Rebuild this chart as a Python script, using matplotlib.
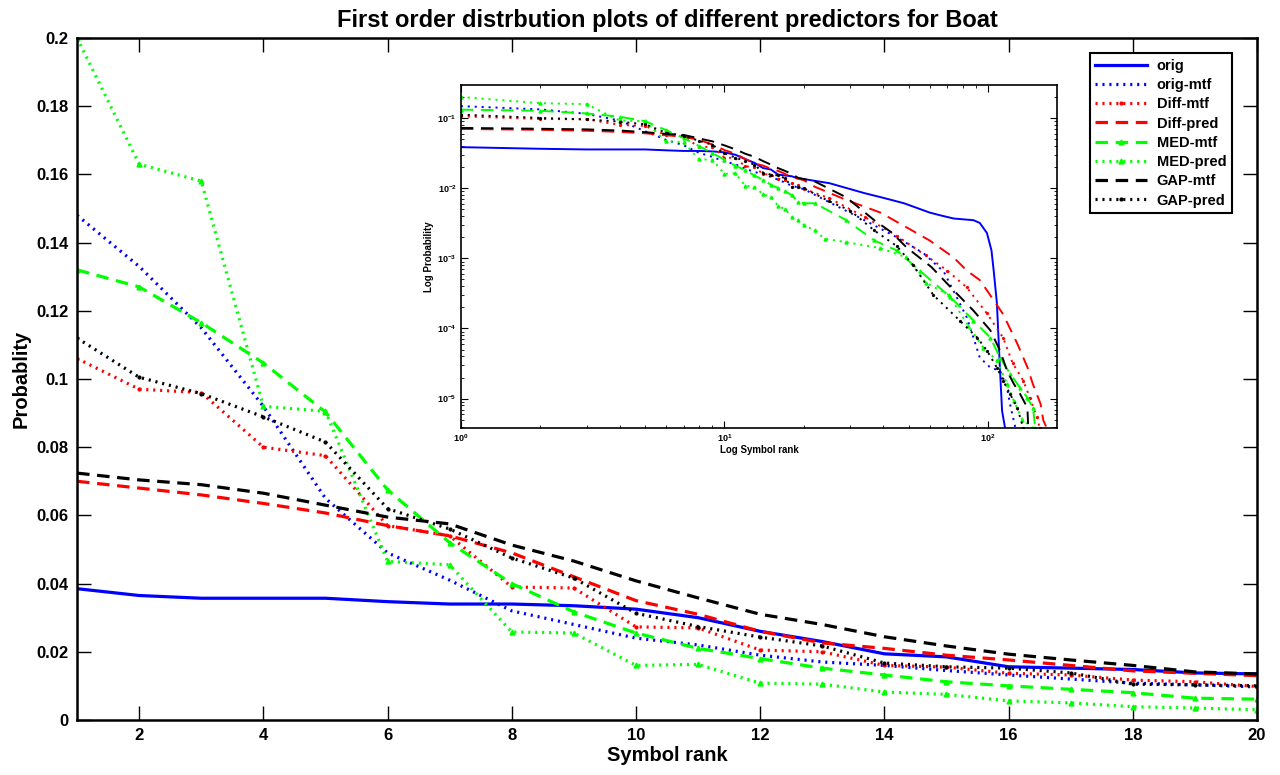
import numpy as np
import matplotlib
matplotlib.use("Agg")
import matplotlib.pyplot as plt

plt.rcParams['font.family'] = ['Liberation Sans', 'DejaVu Sans']
plt.rcParams['font.weight'] = 'bold'
plt.rcParams['axes.titleweight'] = 'bold'
plt.rcParams['axes.labelweight'] = 'bold'
plt.rcParams['lines.scale_dashes'] = False

rank = np.arange(1, 21)

# first 20 symbol probabilities
orig = [0.0385, 0.0365, 0.0357, 0.0357, 0.0357, 0.0347, 0.0340, 0.0340, 0.0335, 0.0325,
        0.0300, 0.0260, 0.0230, 0.0194, 0.0185, 0.0156, 0.0152, 0.0148, 0.0138, 0.0135]
orig_mtf = [0.148, 0.133, 0.115, 0.092, 0.065, 0.049, 0.041, 0.032, 0.028, 0.024,
            0.022, 0.019, 0.017, 0.016, 0.0145, 0.0132, 0.012, 0.0108, 0.0103, 0.0097]
diff_mtf = [0.106, 0.097, 0.096, 0.080, 0.0775, 0.057, 0.054, 0.039, 0.0387, 0.0273,
            0.027, 0.0205, 0.020, 0.016, 0.0155, 0.0137, 0.0132, 0.0117, 0.0112, 0.0098]
diff_pred = [0.070, 0.068, 0.066, 0.0635, 0.0607, 0.057, 0.054, 0.049, 0.042, 0.035,
             0.031, 0.026, 0.0226, 0.021, 0.019, 0.0176, 0.016, 0.0144, 0.0137, 0.013]
med_mtf = [0.132, 0.127, 0.1165, 0.1047, 0.0903, 0.0675, 0.052, 0.040, 0.0317, 0.0255,
           0.021, 0.018, 0.0152, 0.0132, 0.0112, 0.010, 0.009, 0.008, 0.0064, 0.0061]
med_pred = [0.200, 0.163, 0.158, 0.092, 0.0905, 0.0465, 0.0455, 0.0258, 0.0255, 0.016,
            0.0163, 0.0108, 0.0105, 0.0082, 0.0075, 0.0056, 0.005, 0.0039, 0.0035, 0.003]
gap_mtf = [0.0724, 0.0704, 0.069, 0.0665, 0.063, 0.0595, 0.0575, 0.0513, 0.0466, 0.0408,
           0.0358, 0.031, 0.028, 0.0244, 0.0217, 0.0193, 0.0176, 0.016, 0.0141, 0.0135]
gap_pred = [0.112, 0.1005, 0.0957, 0.0889, 0.0815, 0.062, 0.056, 0.0475, 0.0416, 0.0313,
            0.0274, 0.0243, 0.0217, 0.0167, 0.0156, 0.0152, 0.0138, 0.0105, 0.0103, 0.010]

# tails past rank 20
orig_tail_r = [25, 34, 40, 48, 60, 66, 74, 88, 93, 99, 103, 105, 108, 111, 113, 116]
orig_tail_p = [0.0118, 0.0085, 0.0073, 0.0061, 0.0045, 0.0041, 0.0037, 0.0035, 0.0032,
               0.0023, 0.0013, 0.00067, 0.00023, 2.5e-5, 6.7e-6, 3.8e-6]
orig_mtf_tail_r = [25, 34, 45, 57, 68, 76, 83, 88, 93, 102, 111, 118, 121, 127]
orig_mtf_tail_p = [0.0063, 0.0035, 0.0020, 0.00118, 0.00064, 0.00028, 0.000144, 7.4e-5,
                   3.85e-5, 2.77e-5, 2.5e-5, 1.44e-5, 8.5e-6, 3.8e-6]
diff_mtf_tail_r = [25, 34, 45, 58, 70, 83, 99, 114, 124, 136, 144, 153, 157]
diff_mtf_tail_p = [0.0072, 0.0039, 0.0021, 0.0011, 0.00067, 0.000385, 0.000164, 7.4e-5,
                   3.2e-5, 1.8e-5, 1.03e-5, 5.5e-6, 3.8e-6]
diff_pred_tail_r = [22, 29, 39, 48, 60, 74, 83, 93, 99, 114, 129, 141, 148, 158, 162, 167, 183]
diff_pred_tail_p = [0.0105, 0.0068, 0.0045, 0.0029, 0.0018, 0.00103, 0.00067, 0.00049,
                    0.00035, 0.00016, 6.1e-5, 2.8e-5, 1.6e-5, 8.5e-6, 4.9e-6, 3.8e-6, 3.8e-6]
med_mtf_tail_r = [22, 29, 37, 45, 55, 72, 88, 102, 111, 121, 132, 141, 148, 151]
med_mtf_tail_p = [0.0061, 0.0035, 0.0018, 0.0013, 0.00067, 0.00028, 0.00013, 7.4e-5,
                  3.85e-5, 2.28e-5, 1.44e-5, 1.03e-5, 7.4e-6, 3.8e-6]
med_pred_tail_r = [22, 24, 29, 39, 49, 58, 71, 84, 96, 108, 118, 125, 135, 148]
med_pred_tail_p = [0.0025, 0.0019, 0.0017, 0.0014, 0.00103, 0.00045, 0.0003, 0.00011,
                   5.35e-5, 3.5e-5, 1.64e-5, 9.4e-6, 5e-6, 3.8e-6]
gap_mtf_tail_r = [22, 29, 37, 43, 49, 61, 74, 88, 102, 111, 118, 125, 132, 141, 142]
gap_mtf_tail_p = [0.0125, 0.0074, 0.0035, 0.00235, 0.00144, 0.00075, 0.00035, 0.00018,
                  9.4e-5, 4.85e-5, 2.5e-5, 1.64e-5, 1.18e-5, 7.4e-6, 3.8e-6]
gap_pred_tail_r = [25, 30, 37, 45, 52, 62, 78, 91, 99, 108, 114, 121, 129, 136]
gap_pred_tail_p = [0.0065, 0.0048, 0.0025, 0.0015, 0.0008, 0.0003, 0.00013, 7.4e-5,
                   4.85e-5, 2.77e-5, 1.8e-5, 1.18e-5, 7.4e-6, 3.8e-6]

labels = ['orig', 'orig-mtf', 'Diff-mtf', 'Diff-pred', 'MED-mtf', 'MED-pred', 'GAP-mtf', 'GAP-pred']
heads = [orig, orig_mtf, diff_mtf, diff_pred, med_mtf, med_pred, gap_mtf, gap_pred]
tails = [(orig_tail_r, orig_tail_p), (orig_mtf_tail_r, orig_mtf_tail_p),
         (diff_mtf_tail_r, diff_mtf_tail_p), (diff_pred_tail_r, diff_pred_tail_p),
         (med_mtf_tail_r, med_mtf_tail_p), (med_pred_tail_r, med_pred_tail_p),
         (gap_mtf_tail_r, gap_mtf_tail_p), (gap_pred_tail_r, gap_pred_tail_p)]

dashed = (0, (9, 5.5))
dotted = (0, (1.5, 3.5))
styles = [dict(color='blue', ls='-'),
          dict(color='blue', ls=dotted),
          dict(color='red', ls=dotted, marker='.'),
          dict(color='red', ls=dashed),
          dict(color='#00ff00', ls=dashed, marker='^'),
          dict(color='#00ff00', ls=dotted, marker='^'),
          dict(color='black', ls=dashed),
          dict(color='black', ls=dotted, marker='.')]

fig = plt.figure(figsize=(12.8, 7.75), dpi=100)
ax = fig.add_axes([0.0602, 0.071, 0.9218, 0.880])

for y, st, lab in zip(heads, styles, labels):
    ms = 3.5 if st.get('marker') == '^' else 4
    ax.plot(rank, y, lw=2.3, ms=ms, label=lab, **st)

ax.set_xlim(1, 20)
ax.set_ylim(0, 0.2)
ax.set_xticks(np.arange(2, 21, 2))
yt = np.arange(0, 0.201, 0.02)
ax.set_yticks(yt)
ax.set_yticklabels([f"{v:g}" for v in np.round(yt, 2)])
ax.tick_params(direction='in', length=10, width=1, labelsize=12, top=True, right=True, pad=6)
for s in ax.spines.values():
    s.set_linewidth(1.8)
ax.set_xlabel('Symbol rank', fontsize=14.5, labelpad=2)
ax.set_ylabel('Probablity', fontsize=14.5, labelpad=4)
ax.set_title('First order distrbution plots of different predictors for Boat', fontsize=17, pad=8)

leg = ax.legend(loc='upper right', bbox_to_anchor=(0.979, 0.978), borderaxespad=0,
                fontsize=10.5, handlelength=3.5, handletextpad=0.7, labelspacing=0.36,
                fancybox=False, framealpha=1, borderpad=0.4)
leg.get_frame().set_edgecolor('black')
leg.get_frame().set_linewidth(1.5)

# log-log inset of the whole distribution
ins = fig.add_axes([0.360, 0.4477, 0.466, 0.4426])
for y, (tr, tp), st in zip(heads, tails, styles):
    r = np.concatenate([rank, tr])
    p = np.concatenate([y, tp])
    ms = 2.2 if st.get('marker') == '^' else 2.6
    ins.loglog(r, p, lw=1.4, ms=ms, **st)
ins.set_xlim(1, 183)
ins.set_ylim(3.81e-6, 0.296)
ins.tick_params(which='both', direction='in', labelsize=6.5, top=True, right=True, pad=3)
ins.tick_params(which='major', length=5)
ins.tick_params(which='minor', length=2.5)
for s in ins.spines.values():
    s.set_linewidth(1.2)
ins.set_xlabel('Log Symbol rank', fontsize=7, labelpad=1)
ins.set_ylabel('Log Probability', fontsize=7, labelpad=2)

fig.savefig('out.png', dpi=100)
